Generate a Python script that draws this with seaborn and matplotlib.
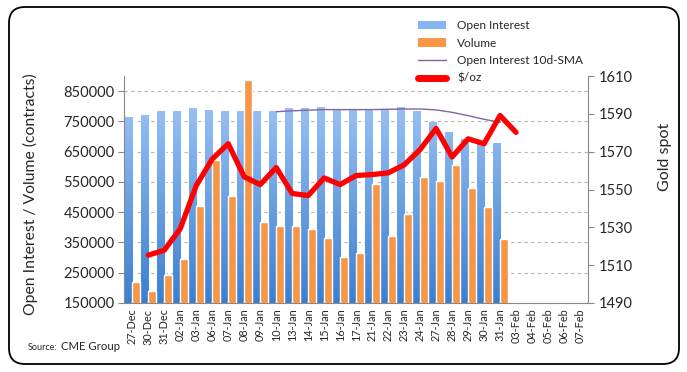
import numpy as np
import pandas as pd
import matplotlib
matplotlib.use("Agg")
import matplotlib.pyplot as plt
import seaborn as sns
from matplotlib.colors import LinearSegmentedColormap
from matplotlib.patches import FancyBboxPatch, Patch
from matplotlib.lines import Line2D

# ---- data ----
dates = ["27-Dec", "30-Dec", "31-Dec", "02-Jan", "03-Jan", "06-Jan", "07-Jan", "08-Jan",
         "09-Jan", "10-Jan", "13-Jan", "14-Jan", "15-Jan", "16-Jan", "17-Jan", "21-Jan",
         "22-Jan", "23-Jan", "24-Jan", "27-Jan", "28-Jan", "29-Jan", "30-Jan", "31-Jan",
         "03-Feb", "04-Feb", "05-Feb", "06-Feb", "07-Feb"]

open_interest = [764000, 772000, 784000, 784000, 794000, 787000, 784000, 784000,
                 784000, 784000, 794000, 794000, 797000, 790000, 790000, 790000,
                 790000, 797000, 784000, 748000, 716000, 692000, 674000, 680000]

volume = [220000, 191000, 242000, 295000, 471000, 623000, 504000, 886000,
          418000, 405000, 405000, 394000, 365000, 302000, 315000, 544000,
          372000, 445000, 566000, 553000, 606000, 531000, 468000, 361000]

oi_sma = [np.nan] * 9 + [782000, 785000, 787000, 789000, 789000, 789000, 789000,
                         790000, 791000, 791000, 788000, 780000, 769000, 757000, 747000]

gold = [np.nan, 1515.3, 1517.9, 1529.3, 1552.1, 1566.1, 1574.2, 1556.7,
        1552.6, 1561.6, 1547.9, 1546.8, 1556.1, 1552.6, 1557.4, 1557.9,
        1558.8, 1563.0, 1571.1, 1582.3, 1567.2, 1576.8, 1574.2, 1589.1, 1580.2]

left_ticks = [150000, 250000, 350000, 450000, 550000, 650000, 750000, 850000]
right_ticks = [1490, 1510, 1530, 1550, 1570, 1590, 1610]

# ---- style ----
sns.set_style("white")
plt.rcParams["font.family"] = ["Lato", "DejaVu Sans"]

fig = plt.figure(figsize=(6.87, 3.72), dpi=100)
ax = fig.add_axes([124.3 / 687, 1 - 303 / 372, 463.7 / 687, 227 / 372])
ax2 = ax.twinx()

xpos = np.arange(len(dates))
n_oi = len(open_interest)

# Excel-like gradient for open interest bars
blue_cmap = LinearSegmentedColormap.from_list("oi", ["#3A7FD2", "#A6CBFA"])
grad = np.linspace(0, 1, 256).reshape(-1, 1)

# faint shadow to the right of the blue bars
ax.bar(xpos[:n_oi] - 0.20, open_interest, width=0.46, color="#e4e4e4", zorder=1.5)
oi_bars = ax.bar(xpos[:n_oi] - 0.24, open_interest, width=0.46,
                 facecolor="none", edgecolor="none", zorder=2)
for bar in oi_bars:
    im = ax.imshow(grad, cmap=blue_cmap, aspect="auto", origin="lower",
                   extent=[-0.5, len(dates) - 0.5, 150000, 900000], zorder=2)
    im.set_clip_path(bar)

ax.bar(xpos[:n_oi] + 0.26, volume, width=0.5, color="#F79646", zorder=3)

# 10d SMA on the contracts axis
sns.lineplot(x=xpos[:len(oi_sma)], y=oi_sma, ax=ax, color="#8064A2", lw=1.0, zorder=4)

# gold price on the right axis
sns.lineplot(x=xpos[:len(gold)], y=gold, ax=ax2, color="#FF0000", lw=3.8, zorder=5)

ax.set_xlim(-0.5, len(dates) - 0.5)
ax.set_ylim(150000, 900000)
ax2.set_ylim(1490, 1610)

# axes / ticks
ax.set_yticks(left_ticks)
ax.set_yticklabels([str(t) for t in left_ticks], fontsize=10.5)
ax2.set_yticks(right_ticks)
ax2.set_yticklabels([str(t) for t in right_ticks], fontsize=10.5)

ax.set_xticks(xpos)
ax.set_xticklabels(dates, rotation=90, fontsize=7.8)
ax.set_xticks(np.arange(-0.5, len(dates)), minor=True)
ax.tick_params(axis="x", which="major", length=0, pad=4)
ax.tick_params(axis="x", which="minor", length=4, color="#888888", direction="out")
ax.tick_params(axis="y", length=4, color="#888888", direction="out", pad=3)
ax2.tick_params(axis="y", length=4, color="#888888", direction="out", pad=4)

ax.yaxis.grid(True, linestyle=(0, (3, 3)), color="#b5b5b5", lw=0.8)
ax.xaxis.grid(False)
ax.set_axisbelow(True)

for a in (ax, ax2):
    a.spines["top"].set_visible(False)
    a.spines["left"].set_color("#888888")
    a.spines["right"].set_color("#888888")
    a.spines["bottom"].set_color("#888888")
ax2.spines["left"].set_visible(False)
ax.spines["right"].set_visible(False)
ax2.spines["bottom"].set_visible(False)

ax.set_ylabel("Open Interest / Volume (contracts)", fontsize=11.3)
ax.yaxis.set_label_coords(-0.186, 0.48)
ax2.set_ylabel("Gold spot", fontsize=11.5)
ax2.yaxis.set_label_coords(1.151, 0.645)

# legend
handles = [
    Patch(facecolor="#86B6F2", edgecolor="none"),
    Patch(facecolor="#F79646", edgecolor="none"),
    Line2D([], [], color="#8064A2", lw=1.0),
    Line2D([], [], color="#FF0000", lw=5),
]
labels = ["Open Interest", "Volume", "Open Interest 10d-SMA", "$/oz"]
fig.legend(handles, labels, loc="upper left", bbox_to_anchor=(418 / 687, 1 - 20 / 372),
           frameon=False, fontsize=8.6, handlelength=2.35, handletextpad=0.95,
           labelspacing=0.55, borderaxespad=0, borderpad=0)

# source note
src = fig.text(28 / 687, 1 - 350 / 372, "Source:", fontsize=6.5, va="baseline")
fig.canvas.draw()
src_right = src.get_window_extent().x1 / fig.bbox.width
fig.text(src_right + 3 / 687, 1 - 350 / 372, "CME Group", fontsize=8.2, va="baseline")

# rounded frame around the whole chart
frame = FancyBboxPatch((0.09, 0.08), 6.70, 3.57,
                       boxstyle="round,pad=0,rounding_size=0.16",
                       transform=fig.dpi_scale_trans, facecolor="none",
                       edgecolor="black", lw=1.3)
fig.add_artist(frame)

fig.savefig("out.png", dpi=100)
